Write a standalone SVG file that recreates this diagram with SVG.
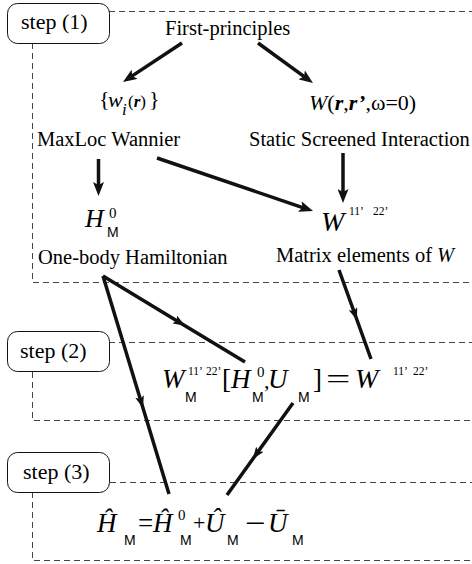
<svg xmlns="http://www.w3.org/2000/svg" width="472" height="564" viewBox="0 0 472 564">
<style>
.box{fill:#fff;stroke:#111;stroke-width:1}
.dash{fill:none;stroke:#444;stroke-width:1;stroke-dasharray:6 4}
.arr{fill:none;stroke:#111;stroke-width:3.5}
.end{marker-end:url(#head)}
.mid{marker-mid:url(#midhead)}
</style>
<defs>
<marker id="head" markerUnits="userSpaceOnUse" viewBox="0 0 14 11" refX="7" refY="5.5" markerWidth="14" markerHeight="11" orient="auto">
<path d="M0,0 L14,5.5 L0,11 L3,5.5 z" fill="#111"/>
</marker>
<marker id="midhead" markerUnits="userSpaceOnUse" viewBox="0 0 12 9" refX="12" refY="4.5" markerWidth="12" markerHeight="9" orient="auto">
<path d="M0,0 L12,4.5 L0,9 L2.5,4.5 z" fill="#111"/>
</marker>
</defs>
<rect width="472" height="564" fill="#fff"/>

<g id="step1">
<path class="dash" d="M109,11.5 H472 M32.5,43 V282.5 H472"/>
<rect class="box" x="7.5" y="3.5" width="102" height="40" rx="10"/>
<text font-family="'Liberation Serif', serif" font-size="22" x="21" y="29">step (1)</text>
</g>
<g id="step2">
<path class="dash" d="M109,342.5 H472 M32.5,372 V420.5 H472"/>
<rect class="box" x="7.5" y="331.5" width="102" height="40" rx="10"/>
<text font-family="'Liberation Serif', serif" font-size="22" x="20" y="358">step (2)</text>
</g>
<g id="step3">
<path class="dash" d="M110,482.5 H472 M32.5,492 V560.5 H472"/>
<rect class="box" x="7.5" y="452.5" width="102" height="40" rx="10"/>
<text font-family="'Liberation Serif', serif" font-size="22" x="23" y="479">step (3)</text>
</g>

<g id="first-principles">
<text font-family="'Liberation Serif', serif" font-size="20.5" x="165" y="35">First-principles</text>
</g>

<g id="wannier">
<text font-family="'Liberation Serif', serif" font-size="22" x="99" y="106">{</text>
<text font-family="'Liberation Serif', serif" font-size="22" font-style="italic" x="108" y="107">w</text>
<text font-family="'Liberation Serif', serif" font-size="17" font-style="italic" x="122" y="115">i</text>
<text font-family="'Liberation Serif', serif" font-size="17" x="128" y="107">(<tspan font-weight="bold" font-style="italic">r</tspan>)</text>
<text font-family="'Liberation Serif', serif" font-size="22" x="149" y="106">}</text>
<text font-family="'Liberation Serif', serif" font-size="20.5" x="37" y="146">MaxLoc Wannier</text>
</g>

<g id="screened">
<text font-family="'Liberation Serif', serif" font-size="22" x="309" y="110"><tspan font-style="italic">W</tspan>(<tspan font-weight="bold" font-style="italic">r</tspan>,<tspan font-weight="bold" font-style="italic">r’</tspan>,ω=0)</text>
<text font-family="'Liberation Serif', serif" font-size="20.5" x="249" y="146">Static Screened Interaction</text>
</g>

<g id="hamiltonian">
<text font-family="'Liberation Serif', serif" font-size="26" font-style="italic" x="85" y="227">H</text>
<text font-family="'Liberation Serif', serif" font-size="15" x="109" y="218">0</text>
<text font-family="'Liberation Sans', sans-serif" font-size="14" x="107" y="237">M</text>
<text font-family="'Liberation Serif', serif" font-size="20.5" x="38" y="264">One-body Hamiltonian</text>
</g>

<g id="matrix">
<text font-family="'Liberation Serif', serif" font-size="28" font-style="italic" x="321" y="231">W</text>
<text font-family="'Liberation Serif', serif" font-size="11.5" x="349" y="215">11’</text>
<text font-family="'Liberation Serif', serif" font-size="11.5" x="373" y="215">22’</text>
<text font-family="'Liberation Serif', serif" font-size="20.5" x="276" y="262">Matrix elements of <tspan font-style="italic">W</tspan></text>
</g>

<g id="step2-formula">
<text font-family="'Liberation Serif', serif" font-size="27" font-style="italic" x="162" y="388">W</text>
<text font-family="'Liberation Serif', serif" font-size="11.5" x="188" y="375">11’</text>
<text font-family="'Liberation Serif', serif" font-size="11.5" x="206" y="375">22’</text>
<text font-family="'Liberation Sans', sans-serif" font-size="14" x="185" y="402">M</text>
<text font-family="'Liberation Serif', serif" font-size="27" x="222" y="388">[</text>
<text font-family="'Liberation Serif', serif" font-size="27" font-style="italic" x="231" y="388">H</text>
<text font-family="'Liberation Serif', serif" font-size="15" x="257" y="377">0</text>
<text font-family="'Liberation Sans', sans-serif" font-size="14" x="252" y="402">M</text>
<text font-family="'Liberation Serif', serif" font-size="22" x="264" y="388">,</text>
<text font-family="'Liberation Serif', serif" font-size="27" font-style="italic" x="268" y="388">U</text>
<text font-family="'Liberation Sans', sans-serif" font-size="14" x="298" y="402">M</text>
<text font-family="'Liberation Serif', serif" font-size="27" x="313" y="388">]</text>
<text font-family="'Liberation Serif', serif" font-size="27" transform="translate(326,388) scale(1.6,1)">=</text>
<text font-family="'Liberation Serif', serif" font-size="28" font-style="italic" x="355" y="388">W</text>
<text font-family="'Liberation Serif', serif" font-size="11.5" x="393" y="375">11’</text>
<text font-family="'Liberation Serif', serif" font-size="11.5" x="413" y="375">22’</text>
</g>

<g id="step3-formula">
<text font-family="'Liberation Serif', serif" font-size="27" font-style="italic" x="97" y="532">Ĥ</text>
<text font-family="'Liberation Sans', sans-serif" font-size="14" x="124" y="545">M</text>
<text font-family="'Liberation Serif', serif" font-size="27" x="138" y="532">=</text>
<text font-family="'Liberation Serif', serif" font-size="27" font-style="italic" x="153" y="532">Ĥ</text>
<text font-family="'Liberation Serif', serif" font-size="15" x="178" y="520">0</text>
<text font-family="'Liberation Sans', sans-serif" font-size="14" x="180" y="545">M</text>
<text font-family="'Liberation Serif', serif" font-size="22" x="193" y="530">+</text>
<text font-family="'Liberation Serif', serif" font-size="27" font-style="italic" x="205" y="532">Û</text>
<text font-family="'Liberation Sans', sans-serif" font-size="14" x="227" y="545">M</text>
<text font-family="'Liberation Serif', serif" font-size="27" transform="translate(245,532) scale(1.35,1)">−</text>
<text font-family="'Liberation Serif', serif" font-size="27" font-style="italic" x="268" y="532">Ū</text>
<text font-family="'Liberation Sans', sans-serif" font-size="14" x="292" y="545">M</text>
</g>

<g id="connectors">
<line class="arr end" x1="182" y1="43" x2="128.8" y2="78.1"/>
<line class="arr end" x1="258" y1="43" x2="307.3" y2="78.9"/>
<line class="arr end" x1="98.5" y1="159" x2="98.5" y2="189"/>
<line class="arr end" x1="157" y1="158" x2="306.4" y2="208.8"/>
<line class="arr end" x1="343" y1="153" x2="343" y2="196"/>
<polyline class="arr mid" points="339,270 357,320 371,359"/>
<polyline class="arr mid" points="103,276 185,325.7 245,362"/>
<polyline class="arr mid" points="103,276 143,408 169,494"/>
<polyline class="arr mid" points="293,403 252.8,459 227,495"/>
</g>
</svg>
